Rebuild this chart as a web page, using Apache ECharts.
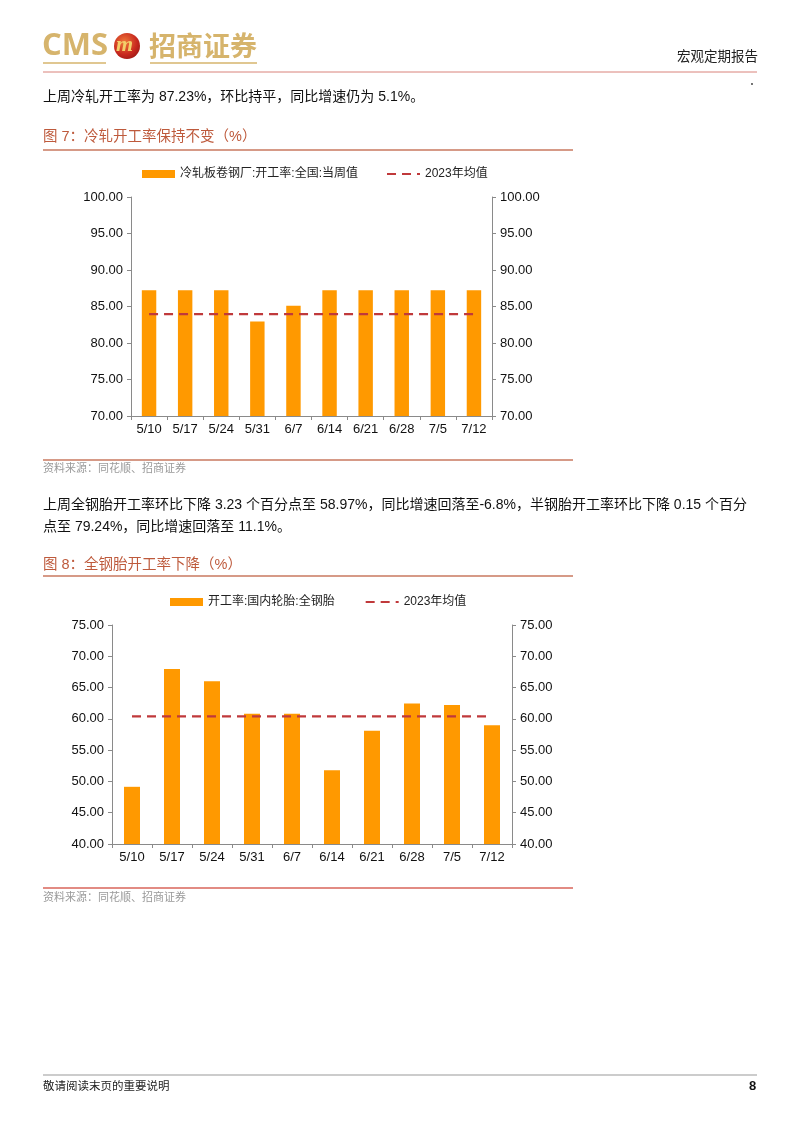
<!DOCTYPE html>
<html>
<head>
<meta charset="utf-8">
<script src="https://cdn.jsdelivr.net/npm/echarts@6/dist/echarts.min.js"></script>
<style>
html,body{margin:0;padding:0;background:#fff;}
#page{width:802px;height:1133px;}
</style>
</head>
<body>
<div id="page"></div>
<script>
// ---- data ----
const categories = ['5/10','5/17','5/24','5/31','6/7','6/14','6/21','6/28','7/5','7/12'];
const coldRolledName = '冷轧板卷钢厂:开工率:全国:当周值';
const coldRolledRate = [87.23, 87.23, 87.23, 82.94, 85.10, 87.23, 87.23, 87.23, 87.23, 87.23];
const coldRolledAvg2023 = [83.95, 83.95, 83.95, 83.95, 83.95, 83.95, 83.95, 83.95, 83.95, 83.95];
const tireName = '开工率:国内轮胎:全钢胎';
const tireRate = [49.14, 67.95, 66.00, 60.82, 60.82, 51.80, 58.10, 62.45, 62.20, 58.97];
const tireAvg2023 = [60.40, 60.40, 60.40, 60.40, 60.40, 60.40, 60.40, 60.40, 60.40, 60.40];
const avgName = '2023年均值';

const chart = echarts.init(document.getElementById('page'), null, {renderer: 'canvas', width: 802, height: 1133});

const CJK = '"Noto Sans CJK SC", sans-serif';
const MIX = '"Liberation Sans", "Noto Sans CJK SC", sans-serif';
const NUM = '"Liberation Sans", Arial, sans-serif';
const ORANGE = '#FF9900';
const DASH = '#C0393B';
const TITLE = '#BE5A3C';
const RULE = '#C8785F';
const GOLD = '#D6B46C';

function yAxis(min, max, pos, grid) {
  return {
    type: 'value', gridIndex: grid, position: pos, min: min, max: max, interval: 5,
    splitLine: {show: false},
    axisLine: {show: true, lineStyle: {color: '#8a8a8a', width: 1}},
    axisTick: {show: true, length: 4, lineStyle: {color: '#8a8a8a'}},
    axisLabel: {color: '#111', fontFamily: NUM, fontSize: 13, margin: 8,
      formatter: v => v.toFixed(2)}
  };
}
function xAxis(grid) {
  return {
    type: 'category', gridIndex: grid, data: categories, boundaryGap: true,
    axisLine: {show: true, lineStyle: {color: '#8a8a8a', width: 1}},
    axisTick: {show: true, length: 4, alignWithLabel: false, lineStyle: {color: '#8a8a8a'}},
    axisLabel: {color: '#111', fontFamily: NUM, fontSize: 13, margin: 7, interval: 0}
  };
}

function txt(x, y, s, size, color, extra) {
  return Object.assign({type: 'text', left: x, top: y, style: {text: s, fontSize: size, fill: color, fontFamily: MIX}}, extra || {});
}
function hline(x1, x2, y, color, w) {
  return {type: 'line', shape: {x1: x1, y1: y, x2: x2, y2: y}, style: {stroke: color, lineWidth: w}};
}

const option = {
  backgroundColor: '#fff',
  animation: false,
  legend: [
    {
      left: 142, top: 168, padding: 0, itemWidth: 33, itemHeight: 8, itemGap: 28,
      data: [{name: coldRolledName, icon: 'rect'}, {name: avgName, itemStyle: {opacity: 0}}],
      textStyle: {fontFamily: MIX, fontSize: 12, color: '#222'}
    },
    {
      left: 170, top: 596, padding: 0, itemWidth: 33, itemHeight: 8, itemGap: 30,
      data: [{name: tireName, icon: 'rect'}, {name: avgName + ' ', itemStyle: {opacity: 0}}],
      textStyle: {fontFamily: MIX, fontSize: 12, color: '#222'}
    }
  ],
  grid: [
    {left: 131, top: 197, width: 361, height: 219},
    {left: 112, top: 625, width: 400, height: 219}
  ],
  xAxis: [xAxis(0), xAxis(1)],
  yAxis: [yAxis(70, 100, 'left', 0), yAxis(70, 100, 'right', 0), yAxis(40, 75, 'left', 1), yAxis(40, 75, 'right', 1)],
  series: [
    {name: coldRolledName, type: 'bar', xAxisIndex: 0, yAxisIndex: 0, data: coldRolledRate, barWidth: '40%', itemStyle: {color: ORANGE}},
    {name: avgName, type: 'line', xAxisIndex: 0, yAxisIndex: 0, data: coldRolledAvg2023, symbol: 'none',
      lineStyle: {color: DASH, width: 2.2, type: [9, 6]}, itemStyle: {color: DASH}},
    {name: tireName, type: 'bar', xAxisIndex: 1, yAxisIndex: 2, data: tireRate, barWidth: '40%', itemStyle: {color: ORANGE}},
    {name: avgName + ' ', type: 'line', xAxisIndex: 1, yAxisIndex: 2, data: tireAvg2023, symbol: 'none',
      lineStyle: {color: DASH, width: 2.2, type: [9, 6]}, itemStyle: {color: DASH}}
  ],
  graphic: [
    // header logo
    {type: 'text', left: 42, top: 31, style: {text: 'CMS', fontSize: 31, fontWeight: 'bold', fill: GOLD, fontFamily: '"Open Sans", sans-serif'}},
    {type: 'circle', shape: {cx: 127, cy: 46, r: 13},
      style: {fill: new echarts.graphic.RadialGradient(0.4, 0.35, 0.8, [{offset: 0, color: '#F07A3A'}, {offset: 0.6, color: '#C8281E'}, {offset: 1, color: '#8E1512'}])}},
    {type: 'text', left: 116, top: 34, style: {text: 'm', fontSize: 22, fontWeight: 'bold', fontStyle: 'italic', fill: '#F3CF6A', fontFamily: 'serif'}},
    {type: 'text', left: 149, top: 32, style: {text: '招商证券', fontSize: 27, fontWeight: 'bold', fill: GOLD, fontFamily: CJK}},
    hline(43, 106, 63, GOLD, 1.5),
    hline(150, 257, 63, GOLD, 1.5),
    txt(677, 51, '宏观定期报告', 13.5, '#222'),
    hline(43, 757, 72, '#D9827A', 1),
    {type: 'circle', shape: {cx: 752, cy: 84, r: 0.9}, style: {fill: '#333'}},
    // paragraph 1
    txt(43, 90, '上周冷轧开工率为 87.23%，环比持平，同比增速仍为 5.1%。', 14, '#111'),
    // figure 7 title
    txt(43, 130, '图 7：冷轧开工率保持不变（%）', 14.5, TITLE),
    hline(43, 573, 150, RULE, 1.5),
    // source 1
    hline(43, 573, 460, RULE, 1.5),
    txt(43, 463, '资料来源：同花顺、招商证券', 11, '#9a9a9a'),
    // paragraph 2
    txt(43, 498, '上周全钢胎开工率环比下降 3.23 个百分点至 58.97%，同比增速回落至-6.8%，半钢胎开工率环比下降 0.15 个百分', 14, '#111'),
    txt(43, 520, '点至 79.24%，同比增速回落至 11.1%。', 14, '#111'),
    // figure 8 title
    txt(43, 558, '图 8：全钢胎开工率下降（%）', 14.5, TITLE),
    hline(43, 573, 576, RULE, 1.5),
    // source 2
    hline(43, 573, 888, '#D9645A', 1.5),
    txt(43, 892, '资料来源：同花顺、招商证券', 11, '#9a9a9a'),
    // footer
    hline(43, 757, 1075, '#999', 1),
    txt(43, 1081, '敬请阅读末页的重要说明', 11.5, '#222'),
    {type: 'text', left: 749, top: 1080, style: {text: '8', fontSize: 13, fontWeight: 'bold', fill: '#111', fontFamily: NUM}}
  ]
};
chart.setOption(option);
</script>
</body>
</html>
